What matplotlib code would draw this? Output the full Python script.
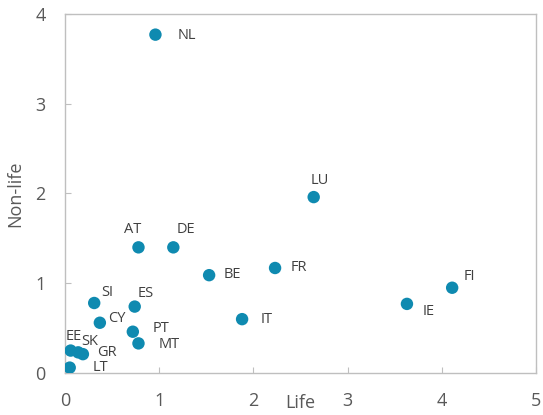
import matplotlib
matplotlib.use("Agg")
import matplotlib.pyplot as plt

countries = ["NL", "LU", "AT", "DE", "BE", "FR", "FI", "IE", "IT",
             "SI", "ES", "CY", "PT", "MT", "EE", "SK", "GR", "LT"]
life = [0.96, 2.64, 0.78, 1.15, 1.53, 2.23, 4.11, 3.63, 1.88,
        0.31, 0.74, 0.37, 0.72, 0.78, 0.06, 0.14, 0.19, 0.05]
non_life = [3.77, 1.96, 1.40, 1.40, 1.09, 1.17, 0.95, 0.77, 0.60,
            0.78, 0.74, 0.56, 0.46, 0.33, 0.25, 0.23, 0.21, 0.06]

# label offsets from the dot, in pixels
label_dx = [31, 6, -6, 13, 23, 24, 17, 22, 25, 13, 11, 17, 28, 31, 3, 11, 24, 31]
label_dy = [-1, 17, 18, 18, 1, 0, 11, -8, 0, 10, 13, 4, 3, -1, 14, 11, 2, 0]

plt.rcParams["font.family"] = ["Open Sans", "DejaVu Sans"]

fig = plt.figure(figsize=(5.43, 4.15), dpi=100)
ax = fig.add_axes([65 / 543, 1 - 373 / 415, (536 - 65) / 543, (373 - 14) / 415])

dot_color = "#0f8ab0"
ax.scatter(life, non_life, s=80, color=dot_color, edgecolors="none", zorder=3)

for name, x, y, dx, dy in zip(countries, life, non_life, label_dx, label_dy):
    ax.annotate(name, (x, y), xytext=(dx, dy), textcoords="offset pixels",
                ha="center", va="center", fontsize=10.5, color="#404040")

ax.set_xlim(0, 5)
ax.set_ylim(0, 4)
ax.set_xticks([0, 1, 2, 3, 4, 5])
ax.set_yticks([0, 1, 2, 3, 4])

for s in ax.spines.values():
    s.set_color("#bfbfbf")
    s.set_linewidth(1.0)

ax.tick_params(axis="both", direction="in", length=4, color="#bfbfbf",
               labelsize=13, labelcolor="#595959")
ax.tick_params(axis="x", pad=14)
ax.tick_params(axis="y", pad=14)

ax.annotate("Life", (2.5, 0), xycoords=("data", "axes fraction"),
            xytext=(0, -30), textcoords="offset pixels",
            ha="center", va="center", fontsize=13, color="#595959")
ax.set_ylabel("Non-life", fontsize=13, color="#595959", labelpad=8)

fig.savefig("out.png", dpi=100)
plt.close(fig)
